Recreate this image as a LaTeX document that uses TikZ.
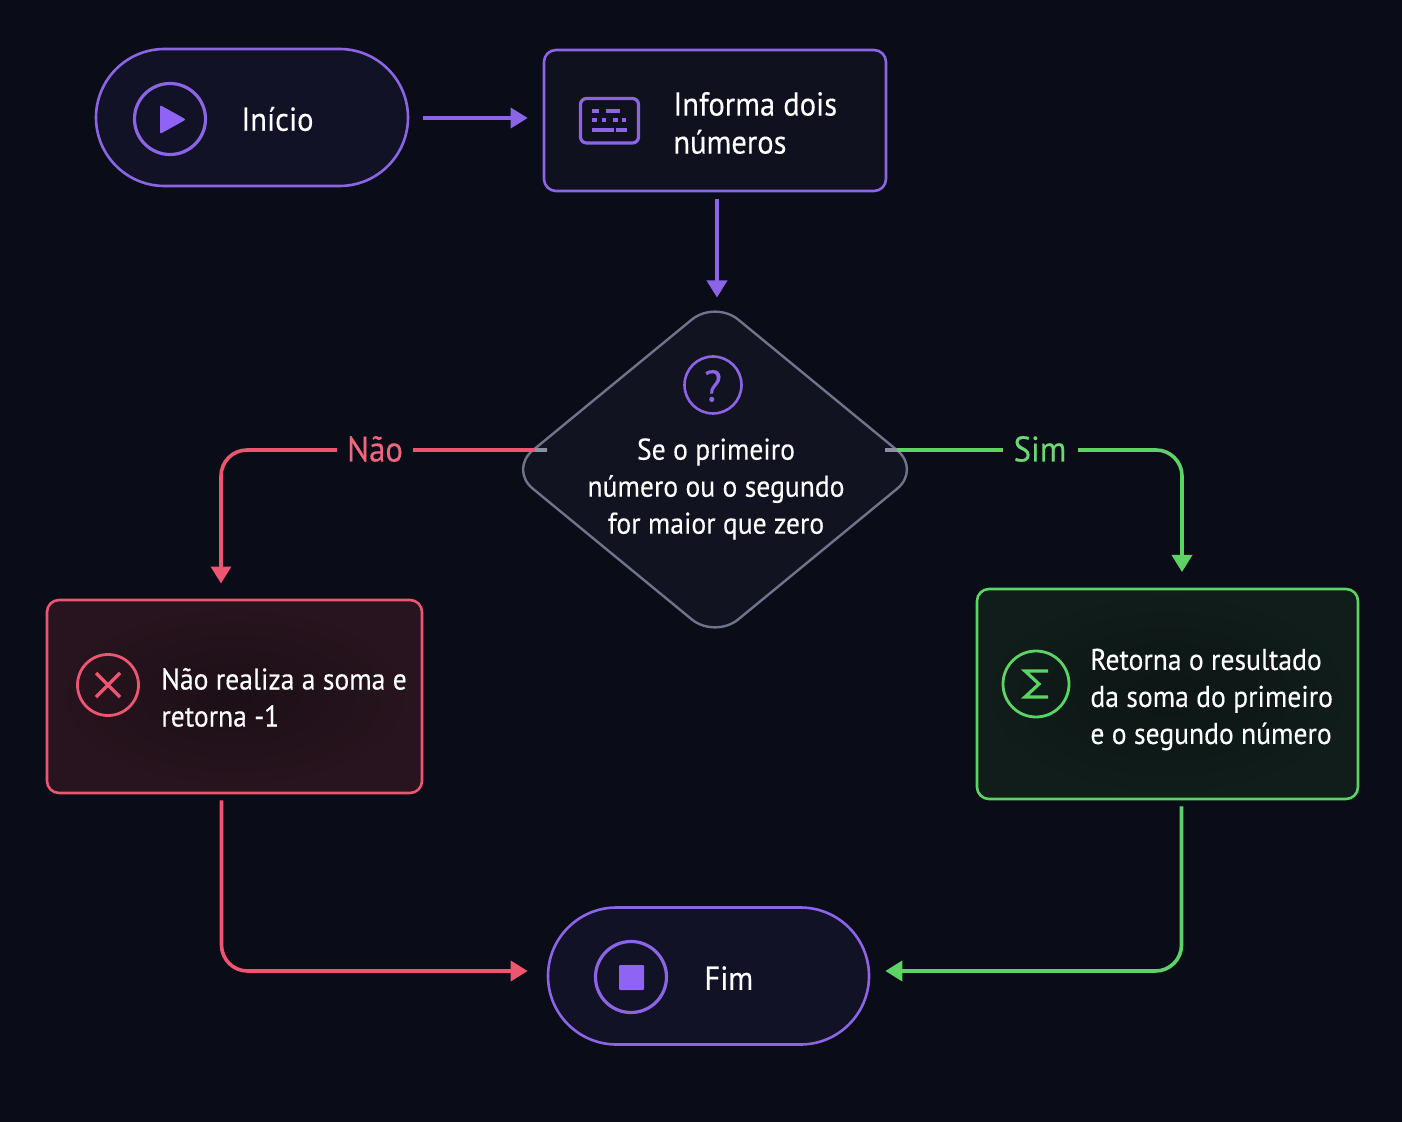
\documentclass[tikz,border=0pt]{standalone}
\usepackage{fontspec}
\setmainfont[FakeStretch=0.92,FakeBold=0.25]{PT Sans}
\usetikzlibrary{arrows.meta,shapes.geometric,shapes.misc}
\definecolor{bgc}{HTML}{0A0C18}
\definecolor{pur}{HTML}{8B65E6}
\definecolor{purf}{HTML}{8F64F5}
\definecolor{redc}{HTML}{EE5570}
\definecolor{grn}{HTML}{5CD465}
\definecolor{pillf}{HTML}{111225}
\definecolor{infof}{HTML}{10111F}
\definecolor{decf}{HTML}{111420}
\definecolor{redfi}{HTML}{1C0F17}
\definecolor{redfo}{HTML}{28141E}
\definecolor{grnfi}{HTML}{0D1615}
\definecolor{grnfo}{HTML}{101D1A}
\definecolor{decs}{HTML}{70748A}
\tikzset{
  x=0.5pt,y=-0.5pt,
  pillbox/.style={rounded rectangle,draw=pur,line width=1.3pt,fill=pillf,minimum height=68.5pt,inner sep=0pt},
  stepbox/.style={rectangle,rounded corners=6pt,line width=1.3pt,inner sep=0pt},
  conn/.style={line width=1.8pt,rounded corners=13pt},
  tip/.style={-{Triangle[length=8.5pt,width=10pt]}},
  iconc/.style={circle,inner sep=0pt,line width=1.6pt,fill=none},
  big/.style={text=white,font=\fontsize{16.6}{19}\selectfont,inner sep=0pt,align=left},
  mid/.style={text=white,font=\fontsize{15}{18.5}\selectfont,inner sep=0pt},
  lab/.style={font=\fontsize{17.8}{20}\selectfont,fill=bgc,inner sep=0pt,minimum height=12pt},
  keybar/.style={line width=1.6pt,draw=pur},
}
\begin{document}
\begin{tikzpicture}
\useasboundingbox[fill=bgc] (0,0) rectangle (1402,1122);

% nodes
\node[pillbox,minimum width=156pt] (inicio) at (252,117.5) {};
\node[stepbox,draw=pur,fill=infof,minimum width=171pt,minimum height=70.5pt] (info) at (715,120.5) {};
\node[stepbox,draw=redc,inner color=redfi,outer color=redfo,minimum width=187.5pt,minimum height=96.5pt] (nao) at (234.5,696.5) {};
\node[stepbox,draw=grn,inner color=grnfi,outer color=grnfo,minimum width=190.5pt,minimum height=105pt] (sim) at (1167.5,694) {};
\node[pillbox,minimum width=160.5pt] (fim) at (708.5,976) {};
\coordinate (decL) at (547,450);
\coordinate (decR) at (885,450);

% connectors
\draw[conn,tip,color=pur,shorten <=7pt,shorten >=7.5pt] ([yshift=-0.25pt]inicio.east) -- ([yshift=-0.25pt]inicio.east -| info.west);
\draw[conn,tip,color=pur,shorten <=3.5pt] ([xshift=1pt]info.south) -- (717,297.5);
\draw[conn,tip,color=redc,shorten <=3pt] ([xshift=-6.5pt]nao.south) |- ([xshift=-9.5pt,yshift=2.5pt]fim.west);
\draw[conn,tip,color=grn,shorten <=3pt] ([xshift=7pt]sim.south) |- ([yshift=2.5pt,xshift=7.5pt]fim.east);

% decision
\node[diamond,draw=decs,fill=decf,line width=1.2pt,rounded corners=15pt,minimum width=206pt,minimum height=169.5pt,inner sep=0pt] (dec) at (715,469.5) {};
\draw[conn,tip,color=redc] (decL) -- (221,450) -- (221,583.5);
\draw[conn,tip,color=grn] (decR) -- (1182,450) -- (1182,572);
\draw[line width=1.8pt,color=decs!80!white] (535,450) -- (decL);
\draw[line width=1.8pt,color=decs!80!white] (897,450) -- (decR);

% labels
\node[lab,text=redc!90!white,minimum width=38pt] (lnao) at (375,449) {Não};
\node[lab,text=grn!90!white,minimum width=37.5pt] (lsim) at (1040,449) {Sim};

% icons
\node[iconc,draw=pur,minimum size=35.5pt] (i1) at (170,119) {};
\fill[purf,rounded corners=1pt] (160,105) -- (186,119.5) -- (160,134) -- cycle;
\draw[pur,line width=1.6pt,rounded corners=3pt] (580.5,98.5) rectangle (638.5,143);
\draw[keybar] (592,111) -- (599,111) (606,111) -- (620,111)
  (592,120) -- (597,120) (602,120) -- (606,120) (613,120) -- (618,120) (622,120) -- (626,120)
  (592,130) -- (614,130) (616,130) -- (627,130);
\node[iconc,draw=pur,minimum size=28.5pt,line width=1.3pt] (i3) at (713,385) {};
\node[text=pur,inner sep=0pt,font=\fontsize{22}{22}\selectfont] (q) at (713,386) {?};
\node[iconc,draw=redc,minimum size=30.5pt,line width=1.4pt] (i4) at (108,685) {};
\draw[redc,line width=1.6pt] (96,673) -- (120,697) (120,673) -- (96,697);
\node[iconc,draw=grn,minimum size=33pt,line width=1.4pt] (i5) at (1036,684) {};
\draw[grn,line width=1.6pt] (1048,671) -- (1025,671) -- (1039,684) -- (1025,697) -- (1048,697);
\node[iconc,draw=pur,minimum size=35.5pt] (i6) at (631,977) {};
\fill[purf,rounded corners=0.5pt] (619,965) rectangle (644,990);

% texts
\node[big,anchor=west] (t1) at (241,119) {Início};
\node[big,anchor=west] (t2) at (673,123) {Informa dois\\números};
\node[mid,align=center] (t3) at (716,489) {Se o primeiro\\número ou o segundo\\for maior que zero};
\node[mid,anchor=west,align=left] (t4) at (161,697.5) {Não realiza a soma e\\retorna -1};
\node[mid,anchor=west,align=left] (t5) at (1090,699.5) {Retorna o resultado\\da soma do primeiro\\e o segundo número};
\node[big,anchor=west] (t6) at (704,978) {Fim};
\end{tikzpicture}
\end{document}
